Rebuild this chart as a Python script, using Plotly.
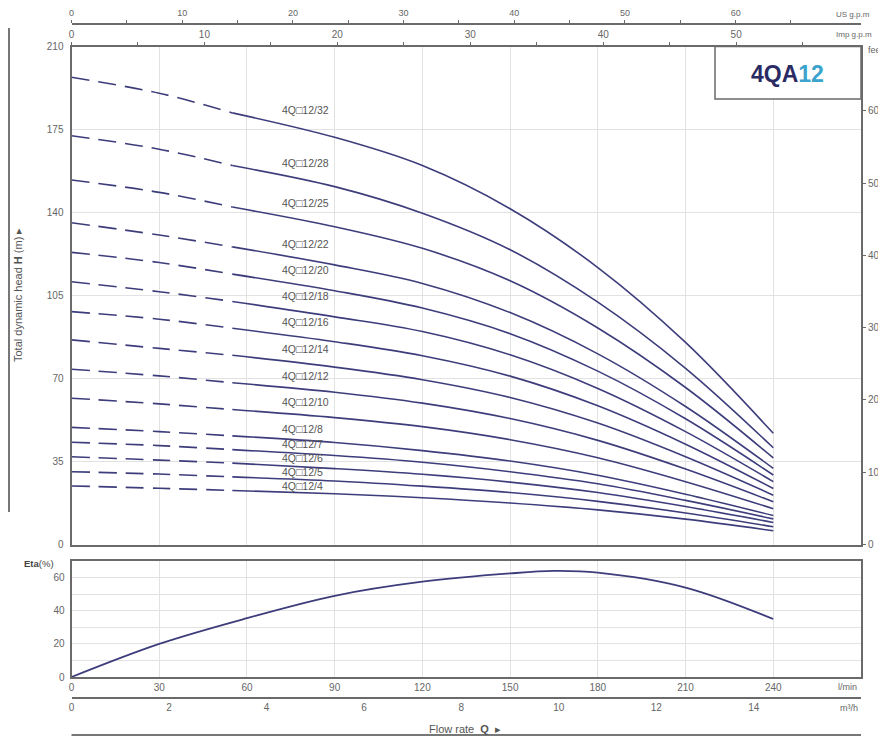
import plotly.graph_objects as go

# page body has an 8px margin: the figure is sized to fill the rest of the 886x740 window
OFF = 8
W, H = 886 - OFF, 740 - OFF

# ---------------- data ----------------
flow_lpm = [0, 30, 55, 90, 120, 150, 180, 210, 240]   # l/min
dash_end = 3  # first 3 points (0..55 l/min) drawn dashed

models = ["4Q\u25a112/32", "4Q\u25a112/28", "4Q\u25a112/25", "4Q\u25a112/22", "4Q\u25a112/20",
          "4Q\u25a112/18", "4Q\u25a112/16", "4Q\u25a112/14", "4Q\u25a112/12", "4Q\u25a112/10",
          "4Q\u25a112/8", "4Q\u25a112/7", "4Q\u25a112/6", "4Q\u25a112/5", "4Q\u25a112/4"]

head_32 = [197.0, 190.3, 182.0, 171.7, 159.8, 141.6, 116.8, 85.2, 46.9]
head_28 = [172.4, 166.7, 159.8, 150.9, 139.7, 124.3, 102.2, 74.3, 40.8]
head_25 = [153.7, 148.5, 142.3, 134.0, 124.9, 111.2, 91.3, 66.2, 36.5]
head_22 = [135.7, 130.5, 125.5, 117.9, 110.1, 97.8, 80.4, 58.2, 32.1]
head_20 = [123.2, 118.9, 114.0, 107.0, 99.7, 88.9, 73.1, 53.0, 29.3]
head_18 = [110.8, 106.6, 102.5, 96.0, 89.8, 80.0, 65.8, 47.6, 26.5]
head_16 = [98.2, 95.0, 91.2, 85.5, 79.6, 71.0, 58.5, 42.3, 23.6]
head_14 = [86.3, 82.7, 79.8, 74.8, 69.5, 62.0, 51.2, 37.0, 20.8]
head_12 = [73.9, 71.1, 68.2, 64.2, 59.6, 53.1, 43.9, 31.8, 18.0]
head_10 = [61.7, 59.3, 56.9, 53.5, 49.7, 44.2, 36.6, 26.5, 15.1]
head_8 = [49.4, 47.6, 45.8, 43.0, 39.6, 35.2, 29.2, 21.2, 12.2]
head_7 = [43.1, 41.7, 40.0, 37.5, 34.7, 30.7, 25.6, 18.6, 10.8]
head_6 = [37.0, 35.6, 34.3, 32.0, 29.6, 26.3, 21.9, 16.0, 9.3]
head_5 = [30.7, 29.7, 28.5, 26.8, 24.6, 21.9, 18.2, 13.3, 7.5]
head_4 = [24.7, 23.7, 22.8, 21.4, 19.7, 17.5, 14.6, 10.7, 5.8]

heads = [head_32, head_28, head_25, head_22, head_20, head_18, head_16, head_14,
         head_12, head_10, head_8, head_7, head_6, head_5, head_4]

# label heights (m) where the model names are written
label_h = [183.3, 160.9, 144.0, 126.7, 115.8, 104.8, 93.8, 82.4, 71.0, 60.1,
           48.7, 42.4, 36.5, 30.6, 24.7]

eta_flow = [0, 30, 60, 90, 120, 150, 165, 180, 210, 240]
eta_pct = [0, 20, 35.5, 49, 57.5, 62.5, 64, 63, 54, 35]

head_ticks = [0, 35, 70, 105, 140, 175, 210]
feet_ticks = [0, 100, 200, 300, 400, 500, 600]
lpm_ticks = [0, 30, 60, 90, 120, 150, 180, 210, 240]
m3h_ticks = [0, 2, 4, 6, 8, 10, 12, 14]
usgpm_ticks = [0, 5, 10, 15, 20, 25, 30, 35, 40, 45, 50, 55, 60, 65]
impgpm_ticks = [0, 5, 10, 15, 20, 25, 30, 35, 40, 45, 50, 55]
eta_ticks = [0, 10, 20, 30, 40, 50, 60, 70]

# ---------------- geometry helpers (window pixel -> paper fraction) ----------------
def px(x):
    return (x - OFF) / W

def py(y):
    return (H - (y - OFF)) / H

X_MAX = 270
XD = [px(71.5), px(861)]
MAIN_D = [py(544.5), py(46.5)]
ETA_D = [py(677), py(561)]

LINE = "#3d3d7c"
GRID = "#e2e2e2"
AX = "#6a6a6a"
TXT = "#666666"
FONT = "Liberation Sans, Arial, sans-serif"

fig = go.Figure()

for name, h in zip(models, heads):
    fig.add_trace(go.Scatter(x=flow_lpm[:dash_end], y=h[:dash_end], mode="lines",
                             line=dict(color=LINE, width=1.6, dash="18px,9px", shape="spline"),
                             xaxis="x", yaxis="y", showlegend=False, hoverinfo="skip"))
    fig.add_trace(go.Scatter(x=flow_lpm[dash_end - 1:], y=h[dash_end - 1:], mode="lines",
                             line=dict(color=LINE, width=1.6, shape="spline"),
                             xaxis="x", yaxis="y", showlegend=False, name=name))

fig.add_trace(go.Scatter(x=eta_flow, y=eta_pct, mode="lines",
                         line=dict(color=LINE, width=1.8, shape="spline"),
                         xaxis="x3", yaxis="y3", showlegend=False, name="Eta"))

# empty traces so that the secondary unit axes get drawn
for xa, ya in [("x2", "y"), ("x4", "y"), ("x", "y2"), ("x5", "y3")]:
    fig.add_trace(go.Scatter(x=[], y=[], mode="lines", xaxis=xa, yaxis=ya,
                             showlegend=False, hoverinfo="skip"))

tickfont = dict(family=FONT, size=10, color=TXT)

fig.update_layout(
    width=W, height=H,
    margin=dict(l=0, r=0, t=0, b=0, autoexpand=False),
    paper_bgcolor="white", plot_bgcolor="white",
    font=dict(family=FONT, color=TXT),
    # main head chart
    xaxis=dict(domain=XD, range=[0, X_MAX], anchor="y", tickvals=lpm_ticks,
               showticklabels=False, ticks="", showgrid=True, gridcolor=GRID,
               showline=True, mirror=True, linecolor=AX, linewidth=2, zeroline=False,
               automargin=False),
    yaxis=dict(domain=MAIN_D, range=[0, 210], anchor="x", tickvals=head_ticks,
               ticks="", tickfont=tickfont, showgrid=True, gridcolor=GRID,
               showline=True, mirror=True, linecolor=AX, linewidth=2, zeroline=False,
               ticklabelstandoff=4, automargin=False),
    yaxis2=dict(overlaying="y", side="right", anchor="x", range=[0, 210 / 0.3048],
                tickvals=feet_ticks, ticks="outside", ticklen=4, tickcolor=AX,
                tickfont=tickfont, showgrid=False, zeroline=False, showline=False,
                automargin=False),
    xaxis2=dict(overlaying="x", side="top", anchor="y", range=[0, X_MAX / 4.54609],
                tickvals=impgpm_ticks,
                ticktext=[str(v) if v % 10 == 0 else "" for v in impgpm_ticks],
                ticks="outside", ticklen=4, tickcolor=AX, tickfont=tickfont,
                showgrid=False, zeroline=False, showline=False, automargin=False),
    xaxis4=dict(overlaying="x", side="top", anchor="free", position=py(24),
                range=[0, X_MAX / 3.78541], tickvals=usgpm_ticks,
                ticktext=[str(v) if v % 10 == 0 else "" for v in usgpm_ticks],
                ticks="outside", ticklen=3, tickcolor=AX,
                tickfont=dict(family=FONT, size=9, color=TXT), ticklabelstandoff=0,
                showgrid=False, zeroline=False, showline=True, linecolor=AX, linewidth=2,
                automargin=False),
    # efficiency chart
    xaxis3=dict(domain=XD, range=[0, X_MAX], anchor="y3", tickvals=lpm_ticks,
                ticks="", tickfont=tickfont, showgrid=True, gridcolor=GRID,
                showline=True, mirror=True, linecolor=AX, linewidth=2, zeroline=False,
                automargin=False),
    yaxis3=dict(domain=ETA_D, range=[0, 70], anchor="x3", tickvals=eta_ticks,
                ticktext=[str(v) if v % 20 == 0 and v < 70 else "" for v in eta_ticks],
                ticks="", tickfont=tickfont, showgrid=True, gridcolor=GRID,
                showline=True, mirror=True, linecolor=AX, linewidth=2, zeroline=False,
                ticklabelstandoff=3, automargin=False),
    xaxis5=dict(overlaying="x3", side="bottom", anchor="free", position=py(698),
                range=[0, X_MAX / 16.6667], tickvals=m3h_ticks, ticks="",
                tickfont=tickfont, showgrid=False, zeroline=False,
                showline=True, linecolor=AX, linewidth=2, automargin=False),
)

ann = []
for name, lh in zip(models, label_h):
    ann.append(dict(x=px(280), y=lh, xref="paper", yref="y", text=name, showarrow=False,
                    xanchor="left", yanchor="middle",
                    font=dict(family=FONT, size=10.5, color="#555555")))

def ptext(x, y, text, size=9, xanchor="left", color=TXT, angle=0):
    ann.append(dict(x=px(x), y=py(y), xref="paper", yref="paper", text=text,
                    showarrow=False, xanchor=xanchor, yanchor="middle",
                    textangle=angle, font=dict(family=FONT, size=size, color=color)))

ptext(834, 14, "US g.p.m", 8)
ptext(834, 34, "Imp g.p.m", 8)
ptext(866, 50, "feet", 9)
ptext(836, 687, "l/min", 9)
ptext(838, 708, "m\u00b3/h", 9)
ptext(22, 563, "<b>Eta</b>(%)", 9.5, color="#444444")
ptext(465, 729, "Flow rate  <b>Q</b>  \u25b8", 11, xanchor="center", color="#555555")
ptext(18, 295, "Total dynamic head <b>H</b> (m) \u25b8", 11, xanchor="center",
      color="#555555", angle=-90)
ann.append(dict(x=px(787), y=py(74), xref="paper", yref="paper",
                text="<b><span style='color:#2a2a64'>4QA</span><span style='color:#3ba3cc'>12</span></b>",
                showarrow=False, xanchor="center", yanchor="middle",
                font=dict(family="Liberation Sans, Arial, sans-serif", size=23)))
fig.update_layout(annotations=ann)

fig.update_layout(shapes=[
    dict(type="rect", xref="paper", yref="paper", x0=px(715), x1=px(861), y0=py(99), y1=py(46.5),
         line=dict(color=AX, width=1.5), fillcolor="white", layer="above"),
    dict(type="line", xref="paper", yref="paper", x0=px(9), x1=px(9), y0=py(28), y1=py(512),
         line=dict(color="#777777", width=2)),
    dict(type="line", xref="paper", yref="paper", x0=px(71.5), x1=px(861), y0=py(735), y1=py(735),
         line=dict(color="#777777", width=2)),
])

fig.write_html("out.html")
